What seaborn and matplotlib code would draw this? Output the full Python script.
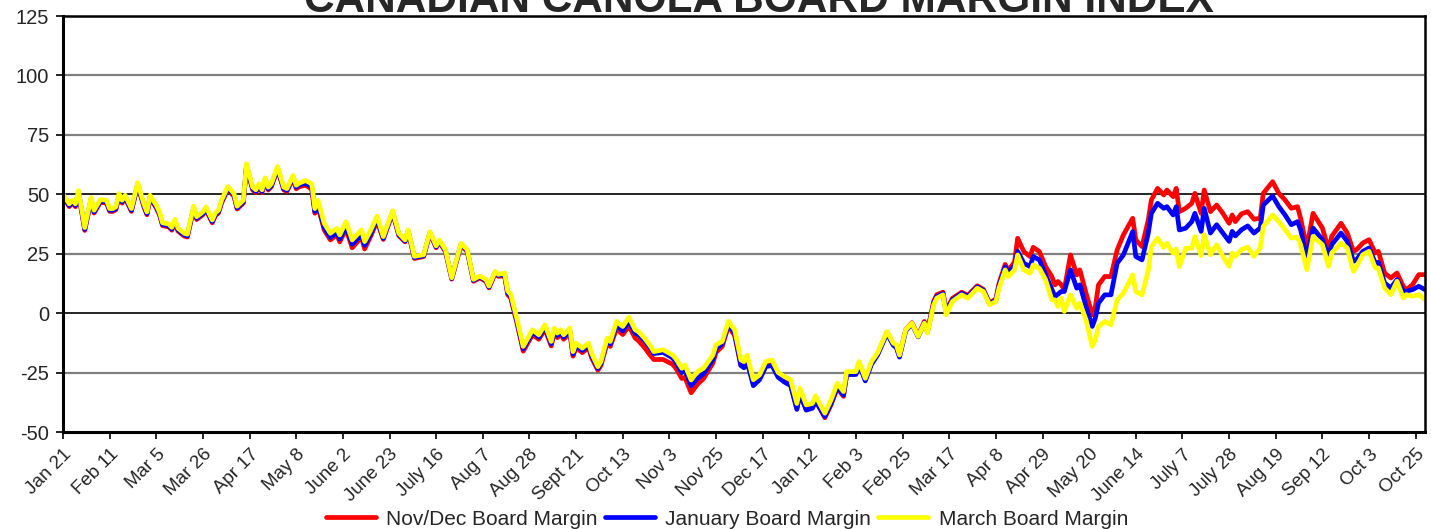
import matplotlib
matplotlib.use("Agg")
import matplotlib.pyplot as plt
import numpy as np
import pandas as pd
import seaborn as sns

# ---------------- data (trading-day index) ----------------
days = [0, 1, 2, 3, 4, 5, 7, 9, 10, 12, 14, 15, 16, 17, 18, 19, 20, 22, 24, 26, 27, 28, 30, 31, 32, 34, 35,
        36, 37, 39, 40, 42, 43, 45, 46, 48, 49, 50, 51, 53, 55, 56, 58, 59, 61, 62, 63, 64, 65, 66, 67, 69,
        71, 72, 74,
        75, 76, 78, 79, 80, 81, 82, 84, 86, 88, 89, 91, 93, 96, 97, 99, 101, 103, 106, 108, 110, 111, 113,
        116, 118, 120, 121, 123, 125, 128, 130, 132, 134, 136, 137, 139, 140, 142, 143, 144, 146,
        148, 151, 153, 155, 157, 158, 159, 160, 161, 163, 164, 165, 167, 169, 170, 172, 173, 175, 176, 178,
        180, 182, 184, 185, 187, 189, 190, 193, 196, 197, 199, 200, 202, 204, 206, 209, 210, 212, 214, 216,
        218, 219, 220, 222, 224, 226, 228, 230, 232, 234, 236, 237, 239, 241, 242, 245, 247, 249, 251, 252,
        255, 256, 258, 260, 262, 265, 267, 268, 269, 271, 273, 275, 277, 278, 280, 281, 283, 284, 286, 289,
        291, 294, 296, 298,
        300, 301, 303, 304, 306, 307, 309, 311, 312, 314, 316, 318, 319, 320, 321, 322, 324, 326, 327, 329,
        331, 332, 333, 335, 337, 339, 341, 344, 345, 347, 349, 350, 352, 354, 355, 357, 358, 359, 361, 363,
        364, 366, 367, 369,
        371, 373, 375, 376, 377, 379, 381, 383, 385, 386, 389, 391, 393, 395, 397, 398, 400, 402, 405, 407,
        408, 411, 413, 415, 416, 418, 420, 422, 423, 425, 427, 429, 431, 432, 434, 436, 438]

march_margin = [50, 48, 46, 47.5, 46, 51.5, 36, 48.6, 43.3, 47.8, 47.5, 44, 44, 44.7, 50.3, 47.5, 49.6, 44,
                54.9, 46, 42.6, 49.6, 45.4, 42.6, 38, 37.5, 36.1, 39.4, 35.7, 33.6, 33.2, 45, 40.6, 42.6,
                44.7, 39.2, 42.2, 43.3, 47.5, 53.3, 50.3, 45, 47.5, 62.8, 53, 51.9, 54.4, 51.9, 56.9, 53,
                54.4, 61.7, 53, 52.4, 57.9,
                53.8, 54.7, 55.8, 55.1, 54.4, 44, 47.5, 37.8, 33.6, 35.7, 32.9, 38.5, 30.8, 35, 30.1, 35,
                40.8, 32.2, 43.1, 33.6, 30.8, 35, 23.9, 24.6, 34.3, 28.3, 30.8, 26.7, 14.9, 29.4, 26.7, 14.2,
                15.6, 14.2, 11.4, 17.6, 16.3, 16.9, 9.3, 7.9, -2.5,
                -14, -7, -9.1, -4.9, -11.9, -6.3, -8.4, -7, -9.1, -6.3, -16.2, -12.6, -14.7, -12.6, -16.9,
                -22.5, -20.4, -10.5, -11.9, -3.5, -5.6, -1.7, -7, -7.7, -10.5, -14, -16.2, -15.4, -17.6, -19,
                -23.2, -21.8, -28.1, -24.6, -23.2, -17.6, -13.3, -11.9, -3.5, -7, -19.7, -20.4, -17.6, -28,
                -26, -20.4, -19.7, -25, -26.7, -28, -38, -31.6, -38.6, -38, -34.8, -42.1, -36.5, -29.5, -33,
                -24.6, -24.6, -20.4, -27.4, -20.4, -16.6, -7.7, -12.6, -13.3, -17.6, -7, -4.2, -9.8, -4.2,
                -8.4, 3.5, 6.3, 7.7, -0.7, 4.9, 7.7, 6.3, 10.5, 9.1, 3.5,
                4.9, 10.5, 18.2, 15.4, 18.2, 24.5, 18.2, 16.8, 20.3, 18.9, 14, 5.6, 5.6, 2.8, 6.3, 0.7, 7.7,
                2.1, 4.2, -2.8, -14, -11, -5.6, -3.5, -4.9, 5.6, 8.4, 16.1, 9.1, 7.7, 18, 28, 31.5, 27.7,
                29.4, 25.2, 27, 19.6, 27.3, 27.3, 32.2, 24.2, 33, 24.6,
                28.8, 23.9, 19.7, 25.3, 23.9, 26.7, 27.8, 23.9, 27.4, 36.5, 41.3, 38.5, 35.1, 31.6, 32, 28.8,
                18.3, 32.3, 28.8, 19.7, 25.3, 29.5, 27.4, 17.6, 19.7, 24.6, 26, 19, 19, 10.6, 7.8, 13.4, 6.4,
                7.8, 7.1, 7.8, 5.7]

january_margin = [49.5, 47.3, 45.3, 46.8, 45.3, 50.8, 35.3, 47.9, 42.6, 47.1, 46.8, 43.3, 43.3, 44, 49.6,
                  46.8, 48.9, 43.3, 54.2, 45.3, 41.9, 48.9, 44.7, 41.9, 37.3, 36.8, 35.4, 38.7, 35, 32.9,
                  32.5, 44.3, 39.9, 41.9, 44, 38.5, 41.5, 42.6, 46.8, 52.6, 49.6, 44.3, 46.8, 62.1, 52.3,
                  51.2, 53.7, 51.2, 56.2, 52.3, 53.7, 61, 52.3, 51.7, 57.2,
                  53, 54, 54.6, 53.8, 53, 42.8, 46, 36, 31.8, 34, 31.2, 36.5, 29, 33, 28.5, 33.5, 39.5, 31.5,
                  42.6, 33, 30.3, 34.5, 23.4, 24.2, 33.9, 27.9, 30.4, 26.3, 14.6, 29, 26.3, 13.8, 15.2, 13.8,
                  11, 17.2, 15.9, 16.3, 8.5, 7, -3.5,
                  -15, -8, -10.1, -5.9, -12.9, -7.3, -9.4, -8, -10.1, -7.3, -17.2, -13.6, -15.7, -13.6,
                  -17.9, -23.3, -21.2, -11.5, -13, -5, -7.5, -3.5, -8.5, -9, -11.5, -14.8, -17, -16.5, -18.8,
                  -20.5, -25, -24, -30.5, -27.5, -25.5, -19.5, -15, -13, -4.5, -8.5, -22, -23, -20.5, -30.5,
                  -28, -22.5, -22, -27, -29, -30.5, -40.5, -34, -40.8, -40, -37, -43.5, -38, -31, -34.5,
                  -25.8, -25.8, -21.5, -28.5, -21.5, -17.5, -8.5, -13.5, -14.5, -18.5, -7.5, -4.5, -10, -4,
                  -8, 4.2, 7, 8.2, 0.2, 5.6, 8.3, 7, 11, 9.6, 3.8,
                  5.5, 11.5, 19.5, 17, 20, 26, 21, 19.6, 23.8, 22.4, 16.1, 10, 7, 8, 9.1, 9.1, 18.2, 10.5,
                  11.9, 2.8, -5.6, -2, 4.2, 7.7, 7.7, 21, 24.5, 34.3, 23.8, 22.4, 33.6, 42, 46.2, 44.1, 44.8,
                  41.3, 44.8, 35, 35.7, 38.5, 42, 34.4, 44.1, 33.7,
                  37.2, 33.7, 30.2, 34.4, 32.5, 35.1, 36.7, 33.7, 35.8, 45.5, 49.3, 44.8, 41.3, 37.2, 38.5,
                  35.1, 23.2, 35.8, 30.9, 23.9, 28.8, 33.7, 30.2, 21.8, 22.5, 26, 27.4, 21.1, 21.4, 12.7,
                  10.6, 14.1, 9.2, 9.2, 9.9, 11.3, 9.9]

novdec_margin = [49, 46.8, 44.8, 46.3, 44.8, 50.3, 34.8, 47.4, 42.1, 46.6, 46.3, 42.8, 42.8, 43.5, 49.1,
                 46.3, 48.4, 42.8, 53.7, 44.8, 41.4, 48.4, 44.2, 41.4, 36.8, 36.3, 34.9, 38.2, 34.5, 32.4,
                 32, 43.8, 39.4, 41.4, 43.5, 38, 41, 42.1, 46.3, 52.1, 49.1, 43.8, 46.3, 61.6, 51.8, 50.7,
                 53.2, 50.7, 55.7, 51.8, 53.2, 60.5, 51.8, 51.2, 56.7,
                 52.3, 53.2, 53.8, 53, 52, 42, 45, 35, 30.8, 33, 30, 35.5, 27.5, 32, 27, 32.5, 38.8, 31,
                 42.2, 32.6, 30, 34.2, 23, 23.8, 33.5, 27.5, 30, 25.9, 14.3, 28.6, 25.9, 13.4, 14.8, 13.4,
                 10.6, 16.8, 15.5, 15.7, 7.8, 6.3, -4.3,
                 -16, -9, -11, -6.8, -13.8, -8.2, -10.3, -8.9, -11, -8.2, -18.1, -14.5, -16.6, -14.5, -18.8,
                 -24, -22, -12.5, -14, -6.5, -9, -5.5, -10.5, -11.5, -14.5, -18, -19.5, -19.5, -21.5, -23,
                 -27.5, -27, -33.5, -30, -27.5, -21, -16.5, -14, -5.2, -9.5, -22, -22.5, -19.5, -29.5,
                 -27.5, -22, -21.5, -26.5, -28.5, -30, -40, -33.5, -40.5, -39.5, -36.5, -44, -38.5, -31.5,
                 -35, -26, -25.5, -21, -28, -21, -17, -8, -13, -14, -18, -7, -4, -9.5, -3.5, -7.5, 5, 7.8,
                 8.8, 1, 6.2, 8.8, 7.5, 11.5, 10, 4.2,
                 6, 12.5, 20.5, 18, 21.5, 31.5, 25.9, 23.8, 27.7, 25.9, 19.6, 15.4, 11.9, 13.3, 12, 9.8,
                 24.5, 16.1, 18.2, 8.4, -0.7, 2.8, 11.9, 15.4, 15.4, 26.6, 32.9, 39.9, 30.8, 28, 39.2, 47.6,
                 52.5, 49.7, 51.8, 49, 52.5, 42.7, 44.1, 46.2, 50.4, 42, 51.8, 42.7,
                 45.5, 42, 37.8, 41.3, 38.5, 41.8, 42.7, 39.5, 39.9, 50.4, 55.3, 50.4, 47.6, 44.1, 44.8,
                 39.9, 27.4, 42, 35.8, 26.7, 32.3, 37.8, 33.7, 26, 26.7, 29.5, 30.9, 25.3, 26, 16.9, 14.8,
                 16.9, 11.3, 9.9, 12, 16.2, 16.2]

series_names = ["Nov/Dec Board Margin", "January Board Margin", "March Board Margin"]
series_colors = ["#FF0000", "#0000FF", "#FFFF00"]

tick_days = list(range(0, 436, 15))
tick_labels = ["Jan 21", "Feb 11", "Mar 5", "Mar 26", "Apr 17", "May 8", "June 2", "June 23", "July 16",
               "Aug 7", "Aug 28", "Sept 21", "Oct 13", "Nov 3", "Nov 25", "Dec 17", "Jan 12", "Feb 3",
               "Feb 25", "Mar 17", "Apr 8", "Apr 29", "May 20", "June 14", "July 7", "July 28", "Aug 19",
               "Sep 12", "Oct 3", "Oct 25"]
y_ticks = [-50, -25, 0, 25, 50, 75, 100, 125]
title = "CANADIAN CANOLA BOARD MARGIN INDEX"

df = pd.DataFrame({
    "day": days * 3,
    "value": novdec_margin + january_margin + march_margin,
    "series": [series_names[0]] * len(days) + [series_names[1]] * len(days) + [series_names[2]] * len(days),
})

# ---------------- plot ----------------
sns.set_style("white")
plt.rcParams["font.family"] = ["Liberation Sans", "DejaVu Sans"]

W, H = 1431, 529
fig = plt.figure(figsize=(W / 100, H / 100), dpi=100)
ax = fig.add_axes([63 / W, 1 - 432 / H, (1425 - 63) / W, (432 - 16) / H])

sns.lineplot(data=df, x="day", y="value", hue="series", hue_order=series_names,
             palette=series_colors, linewidth=3.4, estimator=None, sort=False, ax=ax)

ax.set_xlim(0, 438)
ax.set_ylim(-50, 125)
ax.set_yticks(y_ticks)
ax.set_yticklabels([str(v) for v in y_ticks], fontsize=14.5)
ax.set_xticks(tick_days)
ax.set_xticklabels(tick_labels, rotation=45, ha="right", va="top", rotation_mode="anchor", fontsize=13.5)
ax.set_xlabel("")
ax.set_ylabel("")

ax.tick_params(axis="both", direction="out", length=5, width=1.2, color="black", left=True, bottom=True)
ax.tick_params(axis="x", pad=5)
ax.tick_params(axis="y", pad=5)

for v in y_ticks[1:-1]:
    if v in (0, 50):
        ax.axhline(v, color="black", lw=1.2, zorder=0.5)
    else:
        ax.axhline(v, color="#808080", lw=1.6, zorder=0.5)

for side in ["left", "bottom", "top", "right"]:
    ax.spines[side].set_visible(True)
    ax.spines[side].set_color("black")
ax.spines["left"].set_linewidth(2.2)
ax.spines["bottom"].set_linewidth(2.2)
ax.spines["top"].set_linewidth(1.8)
ax.spines["right"].set_linewidth(1.8)

handles, labels = ax.get_legend_handles_labels()
if ax.get_legend() is not None:
    ax.get_legend().remove()
fig.legend(handles, labels, loc="lower center", bbox_to_anchor=(0.508, -0.035), ncol=3, frameon=False,
           fontsize=15, handlelength=2.4, columnspacing=0.35, handletextpad=0.5)

fig.text(759 / W, 1 - 12 / H, title, ha="center", va="baseline", fontsize=30.5, fontweight="bold")

fig.savefig("out.png", dpi=100)
